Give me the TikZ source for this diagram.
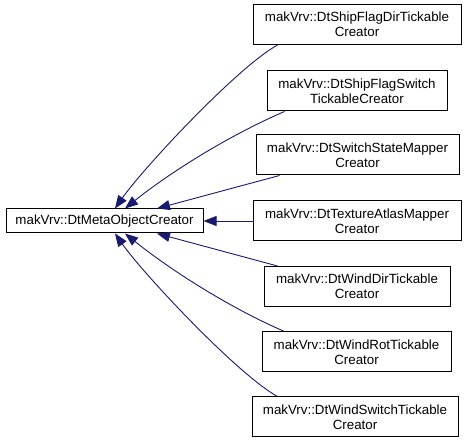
\documentclass[tikz,border=0pt]{standalone}
\usepackage{fontspec}
\setmainfont{Liberation Sans}
\usetikzlibrary{arrows.meta}
\definecolor{edgeblue}{RGB}{25,25,112}

\begin{document}
\begin{tikzpicture}[x=1pt, y=-1pt,
  cls/.style={draw, line width=1pt, font=\fontsize{13.33}{15}\selectfont,
    minimum height=40pt, inner sep=0pt, align=center},
  arr/.style={-{Triangle[length=13pt, width=10pt]}, line width=0.9pt, edgeblue}]
\useasboundingbox (0,0) rectangle (467,443);
% Base class
\node[cls, minimum width=197pt, minimum height=24pt] (base) at (104.5,221) {makVrv::DtMetaObjectCreator};
% Derived classes
\node[cls, minimum width=208pt] (flagdir) at (357,24.5) {makVrv::DtShipFlagDirTickable\\Creator};
\node[cls, minimum width=180pt] (flagswitch) at (357,91) {makVrv::DtShipFlagSwitch\\TickableCreator};
\node[cls, minimum width=203pt] (statemapper) at (357.5,155) {makVrv::DtSwitchStateMapper\\Creator};
\node[cls, minimum width=208pt] (atlasmapper) at (357,221) {makVrv::DtTextureAtlasMapper\\Creator};
\node[cls, minimum width=186pt] (winddir) at (357,286.5) {makVrv::DtWindDirTickable\\Creator};
\node[cls, minimum width=189pt] (windrot) at (356.5,352) {makVrv::DtWindRotTickable\\Creator};
\node[cls, minimum width=206pt] (windswitch) at (355,417) {makVrv::DtWindSwitchTickable\\Creator};
% Inheritance edges
\draw[arr] ([xshift=25pt]flagdir.south west) .. controls +(-40,22) and +(28,-40) .. ([xshift=10.5pt]base.north);
\draw[arr] ([xshift=18pt]flagswitch.south west) .. controls +(-50,21.5) and +(50,-40) .. ([xshift=20.5pt]base.north);
\draw[arr] ([xshift=24pt]statemapper.south west) -- ([xshift=52.5pt]base.north);
\draw[arr] (atlasmapper.west) -- (base.east);
\draw[arr] ([xshift=14pt]winddir.north west) -- ([xshift=52.5pt]base.south);
\draw[arr] ([xshift=23pt]windrot.north west) .. controls +(-50,-21.5) and +(50,40) .. ([xshift=20.5pt]base.south);
\draw[arr] ([xshift=26pt]windswitch.north west) .. controls +(-40,-22) and +(28,40) .. ([xshift=10.5pt]base.south);
\end{tikzpicture}
\end{document}
